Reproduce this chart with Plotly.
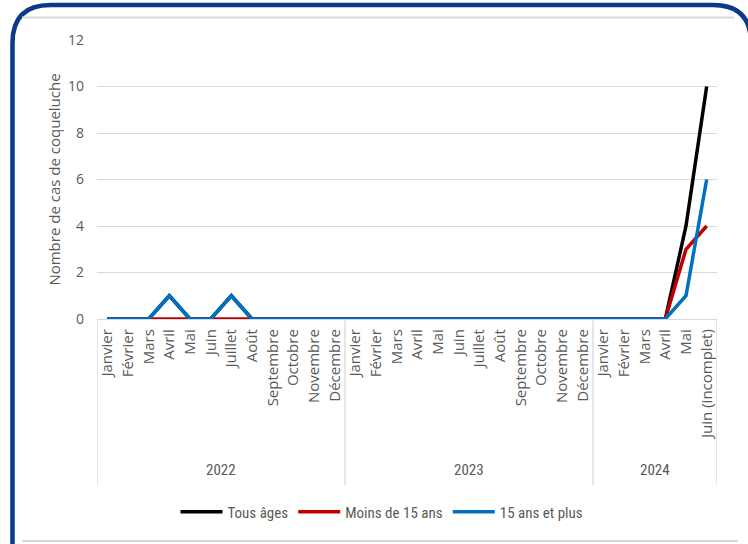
import plotly.graph_objects as go

# Monthly whooping-cough case counts by age group
years = ["2022", "2023", "2024"]
months_2022 = ["Janvier", "Février", "Mars", "Avril", "Mai", "Juin", "Juillet",
               "Août", "Septembre", "Octobre", "Novembre", "Décembre"]
months_2023 = ["Janvier", "Février", "Mars", "Avril", "Mai", "Juin", "Juillet",
               "Août", "Septembre", "Octobre", "Novembre", "Décembre"]
months_2024 = ["Janvier", "Février", "Mars", "Avril", "Mai", "Juin (incomplet)"]

tous_ages = [0, 0, 0, 1, 0, 0, 1, 0, 0, 0, 0, 0,
             0, 0, 0, 0, 0, 0, 0, 0, 0, 0, 0, 0,
             0, 0, 0, 0, 4, 10]
moins_15 = [0, 0, 0, 0, 0, 0, 0, 0, 0, 0, 0, 0,
            0, 0, 0, 0, 0, 0, 0, 0, 0, 0, 0, 0,
            0, 0, 0, 0, 3, 4]
plus_15 = [0, 0, 0, 1, 0, 0, 1, 0, 0, 0, 0, 0,
           0, 0, 0, 0, 0, 0, 0, 0, 0, 0, 0, 0,
           0, 0, 0, 0, 1, 6]

y_ticks = [0, 2, 4, 6, 8, 10, 12]

month_groups = [months_2022, months_2023, months_2024]
month_labels = months_2022 + months_2023 + months_2024
xpos = list(range(len(month_labels)))

GREY_TEXT = "#595959"
GRID = "#d9d9d9"
BASE_FONT = "Open Sans, Noto Sans, sans-serif"
NARROW_FONT = "Liberation Sans Narrow, Roboto Condensed, Arial Narrow, Liberation Sans, sans-serif"

# figure geometry (pixels) used to place the decorative frame
W, H = 748, 544
ML, MR, MT, MB = 97, 31, 40, 225
PW, PH = W - ML - MR, H - MT - MB


def px(x):
    return (x - ML) / PW


def py(y):
    return (H - MB - y) / PH


fig = go.Figure()
series = [
    ("Tous âges", tous_ages, "#000000"),
    ("Moins de 15 ans", moins_15, "#c00000"),
    ("15 ans et plus", plus_15, "#0070c0"),
]
for name, vals, col in series:
    fig.add_trace(go.Scatter(
        x=xpos, y=vals, name=name, mode="lines",
        line=dict(color=col, width=3.5),
    ))

shapes = []
annotations = []

# group dividers and year labels under the month labels
start = 0
bounds = [-0.5]
for yr, grp in zip(years, month_groups):
    end = start + len(grp)
    bounds.append(end - 0.5)
    annotations.append(dict(
        x=(start + end - 1) / 2, y=py(470), xref="x", yref="paper",
        text=yr, showarrow=False, xanchor="center", yanchor="middle",
        font=dict(family=NARROW_FONT, size=15, color=GREY_TEXT),
    ))
    start = end
for b in bounds:
    shapes.append(dict(type="line", xref="x", yref="paper",
                       x0=b, x1=b, y0=0, y1=py(485),
                       line=dict(color=GRID, width=1.3)))

# outer rounded frame and inner separators
r = 38
frame = (f"M {px(12.5)} {py(600)} L {px(12.5)} {py(5 + r)} "
         f"Q {px(12.5)} {py(5)} {px(12.5 + r)} {py(5)} "
         f"L {px(751 - r)} {py(5)} Q {px(751)} {py(5)} {px(751)} {py(5 + r)} "
         f"L {px(751)} {py(600)}")
shapes.append(dict(type="path", xref="paper", yref="paper", path=frame,
                   line=dict(color="#0a3a8a", width=4.5)))
shapes.append(dict(type="line", xref="paper", yref="paper",
                   x0=px(22), x1=px(734), y0=py(17.5), y1=py(17.5),
                   line=dict(color=GRID, width=2)))
shapes.append(dict(type="line", xref="paper", yref="paper",
                   x0=px(22), x1=px(738), y0=py(541), y1=py(541),
                   line=dict(color=GRID, width=2)))

fig.update_layout(
    width=W, height=H,
    margin=dict(l=ML, r=MR, t=MT, b=MB, pad=0),
    paper_bgcolor="white", plot_bgcolor="white",
    font=dict(family=BASE_FONT, color=GREY_TEXT),
    showlegend=True,
    legend=dict(
        orientation="h", x=px(382), y=py(512), xanchor="center", yanchor="middle",
        font=dict(family=NARROW_FONT, size=15, color=GREY_TEXT),
        itemwidth=42, tracegroupgap=0, bgcolor="rgba(0,0,0,0)",
    ),
    shapes=shapes,
    annotations=annotations,
)

fig.update_xaxes(
    range=[-0.5, len(month_labels) - 0.5],
    tickmode="array", tickvals=xpos, ticktext=month_labels,
    tickangle=-90, tickfont=dict(family=BASE_FONT, size=15, color=GREY_TEXT),
    ticklabelstandoff=3,
    showgrid=False, zeroline=False,
    showline=True, linecolor=GRID, linewidth=1.3,
    ticks="", fixedrange=True,
)
fig.update_yaxes(
    range=[0, 12], tickmode="array", tickvals=y_ticks,
    tickfont=dict(family=BASE_FONT, size=14, color=GREY_TEXT),
    showgrid=True, gridcolor=GRID, gridwidth=1.3,
    zeroline=False, showline=False, ticks="",
    ticklabelstandoff=12,
    title=dict(text="Nombre de cas de coqueluche", standoff=3,
               font=dict(family=BASE_FONT, size=15, color=GREY_TEXT)),
    fixedrange=True,
)

fig.write_html("out.html")
